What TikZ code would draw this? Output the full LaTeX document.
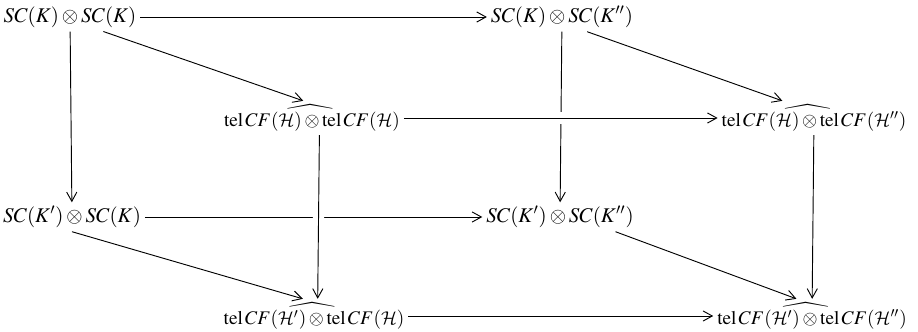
\documentclass[tikz,border=0pt]{standalone}
\usepackage{amsmath,amssymb}
\usepackage{mathptmx}
\DeclareMathAlphabet{\mathcal}{OMS}{cmsy}{m}{n}
\usetikzlibrary{arrows.meta,calc,positioning}
\newcommand{\telH}[2]{\mathrm{tel}\,CF(\widehat{\mathcal{H}#1)\otimes\mathrm{tel}}\,CF(\mathcal{H}#2)}

\begin{document}
\begin{tikzpicture}[x=0.019cm,y=-0.019cm,
    obj/.style={inner sep=2pt,font=\fontsize{11.3}{13}\selectfont},
    tel/.style={inner sep=2pt,font=\fontsize{10.4}{12}\selectfont},
    map/.style={draw,line width=0.5pt,-{Straight Barb[length=5pt,width=5.5pt]}},
    over/.style={preaction={draw=white,line width=6pt,-}}]
  \useasboundingbox (0,0) rectangle (918,332);
  % back face
  \node[obj] (scKK)   at (70,17)  {$SC(K)\otimes SC(K)$};
  \node[obj] (scKKpp) at (562,17) {$SC(K)\otimes SC(K'')$};
  \node[obj] (scKpK)  at (72,217) {$SC(K')\otimes SC(K)$};
  \node[obj] (scKpKpp) at (560,217) {$SC(K')\otimes SC(K'')$};
  % front face
  \node[tel] (telHH)    at (312,118) {$\telH{}{}$};
  \node[tel] (telHHpp)  at (814,118) {$\telH{}{''}$};
  \node[tel] (telHpH)   at (314,316) {$\telH{'}{}$};
  \node[tel] (telHpHpp) at (812,316) {$\telH{'}{''}$};
  % back maps
  \draw[map] (scKK) -- (scKKpp);
  \draw[map] (scKK) -- (scKpK);
  \draw[map] (scKKpp) -- (scKpKpp);
  \draw[map] (scKpK) -- (scKpKpp);
  % diagonals
  \draw[map] ([xshift=-20]scKK.south east) -- ([xshift=45]telHH.north west);
  \draw[map] ([xshift=-27]scKKpp.south east) -- ([xshift=35]telHHpp.north west);
  \draw[map] ([xshift=0]scKpK.south) -- ([xshift=45]telHpH.north west);
  \draw[map] ([xshift=30]scKpKpp.south) -- ([xshift=45]telHpHpp.north west);
  % front maps
  \draw[map,over] (telHH) -- (telHHpp);
  \draw[map,over] ([xshift=4]telHH.south) -- ([xshift=2]telHpH.north);
  \draw[map] (telHHpp) -- (telHpHpp);
  \draw[map] (telHpH) -- (telHpHpp);
\end{tikzpicture}
\end{document}
